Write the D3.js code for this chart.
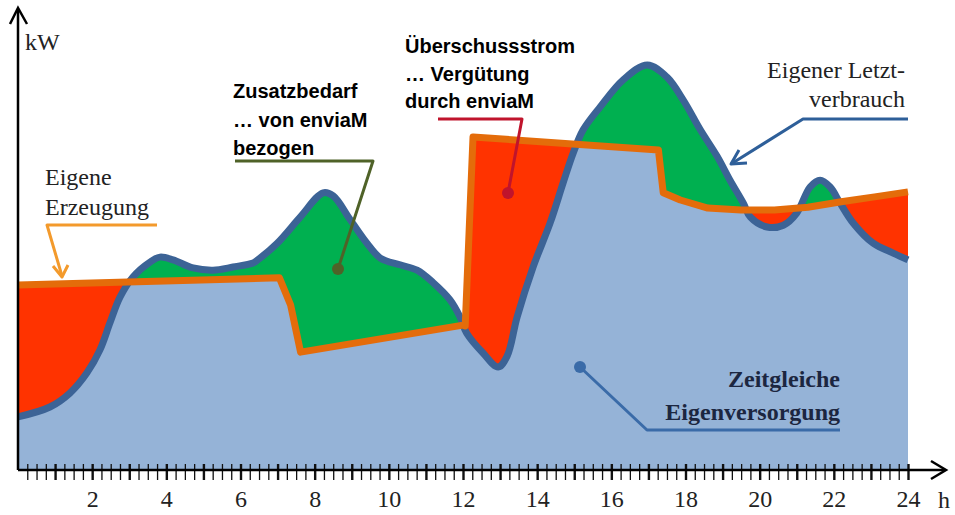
<!DOCTYPE html>
<html>
<head>
<meta charset="utf-8">
<script src="https://cdn.jsdelivr.net/npm/d3@7"></script>
<style>
  body { margin: 0; background: #fff; }
  svg { display: block; }
</style>
</head>
<body>
<svg id="chart" width="955" height="515"></svg>
<script>
// consumption (Eigener Letztverbrauch)
const consHours = [0, 0.86, 1.4, 1.86, 2.21, 2.48, 2.75, 3.1, 3.56, 3.83, 4.18, 4.72, 5.26, 5.8, 6.34, 6.45,
  6.99, 7.61, 8.23, 8.5, 8.96, 9.41, 9.77, 10.3, 10.76, 11.2, 11.65, 11.92, 12.1, 12.54, 12.95, 13.19,
  13.46, 13.89, 14.35, 14.7, 14.97, 15.24, 15.7, 16.32, 16.97, 17.5, 17.94, 18.4, 18.86, 19.2, 19.56,
  19.75, 20.2, 20.64, 21.0, 21.36, 21.63, 21.9, 22.17, 22.52, 23.06, 23.6, 24];
const consKW = [11.8, 14.0, 17.1, 21.6, 26.7, 32.7, 38.4, 42.9, 46.2, 47.3, 46.7, 44.9, 44.4, 45.1, 46.0, 46.6,
  50.4, 56.2, 61.6, 60.9, 55.6, 50.4, 47.1, 45.6, 44.4, 41.6, 37.8, 34.0, 30.4, 26.0, 22.9, 25.3,
  34.0, 45.1, 54.9, 63.8, 70.4, 75.6, 80.7, 86.7, 90.0, 87.3, 82.2, 75.6, 69.6, 64.4, 59.3,
  56.2, 54.0, 54.4, 57.1, 62.9, 64.4, 62.9, 59.3, 54.9, 50.4, 48.2, 46.7];

// production (Eigene Erzeugung)
const prodHours = [0, 7.05, 7.35, 7.62, 12.0, 12.06, 12.27, 17.27, 17.4, 17.86, 18.6, 19.5, 20.4, 21.3, 22.2, 23.1, 24];
const prodKW = [41.1, 42.7, 36.7, 26.2, 32.2, 32.0, 74.0, 71.1, 61.6, 60.0, 58.2, 57.8, 57.8, 58.4, 59.6, 60.7, 61.8];

const hourLabels = [2, 4, 6, 8, 10, 12, 14, 16, 18, 20, 22, 24];

const svg = d3.select("#chart");
const x = d3.scaleLinear().domain([0, 24]).range([18, 908]);
const y = d3.scaleLinear().domain([0, 100]).range([470, 20]);

const cons = consHours.map((h, i) => ({ h: h, v: consKW[i] }));
const prod = prodHours.map((h, i) => ({ h: h, v: prodKW[i] }));

const consArea = d3.area().x(d => x(d.h)).y0(y(0)).y1(d => y(d.v)).curve(d3.curveCatmullRom);
const prodArea = d3.area().x(d => x(d.h)).y0(y(0)).y1(d => y(d.v));
const consLine = d3.line().x(d => x(d.h)).y(d => y(d.v)).curve(d3.curveCatmullRom);
const prodLine = d3.line().x(d => x(d.h)).y(d => y(d.v));

svg.append("defs").append("clipPath").attr("id", "prodClip")
  .append("path").attr("d", prodArea(prod));

// red = surplus, green = extra demand, blue = overlap
svg.append("path").attr("d", prodArea(prod)).attr("fill", "#ff3300");
svg.append("path").attr("d", consArea(cons)).attr("fill", "#00b050");
svg.append("path").attr("d", consArea(cons)).attr("fill", "#95b3d7").attr("clip-path", "url(#prodClip)");

svg.append("path").attr("d", consLine(cons))
  .attr("fill", "none").attr("stroke", "#3c6396").attr("stroke-width", 7).attr("stroke-linejoin", "round");
svg.append("path").attr("d", prodLine(prod))
  .attr("fill", "none").attr("stroke", "#e46c0a").attr("stroke-width", 7).attr("stroke-linejoin", "round");

// axes
const ticks = d3.range(1, 97).map(i => i / 4);
const tickAxis = svg.append("g").attr("transform", "translate(0,464)")
  .call(d3.axisBottom(x).tickValues(ticks).tickSize(16).tickFormat(""));
tickAxis.select(".domain").remove();
tickAxis.selectAll(".tick line")
  .attr("stroke", "#111")
  .attr("stroke-width", d => Number.isInteger(d) ? 2.4 : 1.3);

const labelAxis = svg.append("g").attr("transform", `translate(0,${y(0)})`)
  .call(d3.axisBottom(x).tickValues(hourLabels).tickSize(0).tickPadding(20));
labelAxis.select(".domain").remove();
labelAxis.selectAll("text")
  .attr("font-family", "Liberation Serif, serif").attr("font-size", 24).attr("fill", "#222");

svg.append("line").attr("x1", x(0)).attr("x2", 944).attr("y1", y(0)).attr("y2", y(0))
  .attr("stroke", "#000").attr("stroke-width", 2.5);
svg.append("line").attr("x1", x(0)).attr("x2", x(0)).attr("y1", y(0)).attr("y2", 9)
  .attr("stroke", "#000").attr("stroke-width", 2.5);
svg.append("path").attr("d", `M10,24L${x(0)},8L27,24`)
  .attr("fill", "none").attr("stroke", "#000").attr("stroke-width", 2.5);
svg.append("path").attr("d", `M931,${y(0) - 9}L946,${y(0)}L931,${y(0) + 9}`)
  .attr("fill", "none").attr("stroke", "#000").attr("stroke-width", 2.5);

const serif = "Liberation Serif, serif";
const sans = "Liberation Sans, Arial, sans-serif";

svg.append("text").attr("x", 25).attr("y", 50).text("kW")
  .attr("font-family", serif).attr("font-size", 24).attr("fill", "#222");
svg.append("text").attr("x", 938).attr("y", 508).text("h")
  .attr("font-family", serif).attr("font-size", 24).attr("fill", "#222");

function lines(x0, ys, texts, opts) {
  texts.forEach((t, i) => {
    svg.append("text").attr("x", x0).attr("y", ys[i]).text(t)
      .attr("font-family", opts.font).attr("font-size", opts.size)
      .attr("font-weight", opts.weight || "normal")
      .attr("text-anchor", opts.anchor || "start")
      .attr("fill", opts.color);
  });
}

// annotations
lines(45, [185, 215], ["Eigene", "Erzeugung"], { font: serif, size: 24, color: "#222" });
lines(233, [98, 127, 155], ["Zusatzbedarf", "\u2026 von enviaM", "bezogen"], { font: sans, size: 20, weight: "bold", color: "#000" });
lines(405, [53, 81, 108], ["\u00dcberschussstrom", "\u2026 Verg\u00fctung", "durch enviaM"], { font: sans, size: 20, weight: "bold", color: "#000" });
lines(905, [78, 107], ["Eigener Letzt-", "verbrauch"], { font: serif, size: 24, anchor: "end", color: "#222" });
lines(840, [387, 420], ["Zeitgleiche", "Eigenversorgung"], { font: serif, size: 24, weight: "bold", anchor: "end", color: "#1c2640" });

function leader(d, color) {
  svg.append("path").attr("d", d).attr("fill", "none").attr("stroke", color)
    .attr("stroke-width", 3).attr("stroke-linejoin", "round");
}

leader("M157,225L47,225L62,276", "#f39a2c");
leader("M53,266L62,277L68,265", "#f39a2c");

leader("M235,161L373,161L338,269", "#4f6228");
svg.append("circle").attr("cx", 338).attr("cy", 269).attr("r", 6).attr("fill", "#4f6228");

leader("M438,119L522,119L508,193", "#c0142c");
svg.append("circle").attr("cx", 508).attr("cy", 193).attr("r", 6).attr("fill", "#c0142c");

leader("M908,119L803,119L731,164", "#2e5f99");
leader("M739,150L731,164L747,163", "#2e5f99");

leader("M580,367L647,430L840,430", "#3a6ba8");
svg.append("circle").attr("cx", 580).attr("cy", 367).attr("r", 6).attr("fill", "#3a6ba8");
</script>
</body>
</html>
